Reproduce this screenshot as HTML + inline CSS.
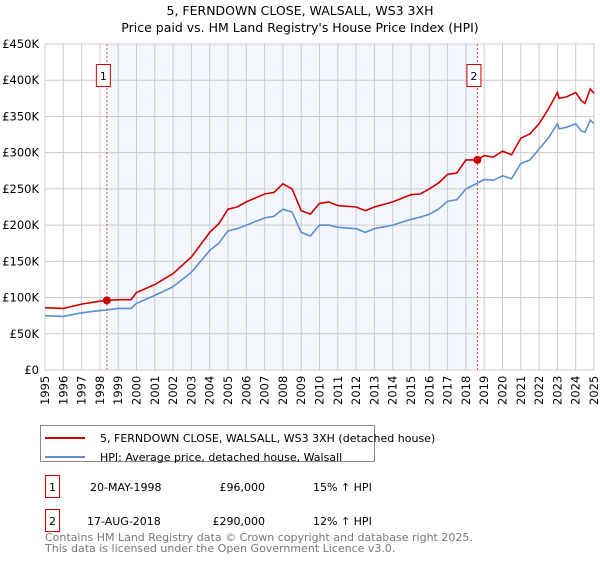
<!DOCTYPE html>
<html><head><meta charset="utf-8"><style>
body{margin:0;background:#fff;font-family:"Liberation Sans","DejaVu Sans",sans-serif;}
svg text{font-family:"DejaVu Sans","Liberation Sans",sans-serif;}
</style></head><body>
<svg id="c" width="600" height="560" xmlns="http://www.w3.org/2000/svg">
<text x="300" y="15" text-anchor="middle" font-size="12.5">5, FERNDOWN CLOSE, WALSALL, WS3 3XH</text>
<text x="300" y="32" text-anchor="middle" font-size="12.5">Price paid vs. HM Land Registry's House Price Index (HPI)</text>
<g id="grid"></g><g id="series"></g><g id="axes"></g>
<rect x="40.5" y="425.5" width="334" height="36" fill="#fff" stroke="#888"/>
<line x1="45" y1="438" x2="85" y2="438" stroke="#cc0000" stroke-width="2"/>
<text x="100" y="442" font-size="11">5, FERNDOWN CLOSE, WALSALL, WS3 3XH (detached house)</text>
<line x1="45" y1="457" x2="85" y2="457" stroke="#5b8fd0" stroke-width="2"/>
<text x="100" y="461" font-size="11">HPI: Average price, detached house, Walsall</text>
<g>
<rect x="45.5" y="475.5" width="14" height="22" fill="#fff" stroke="#cc0000"/>
<text x="52.5" y="491" text-anchor="middle" font-size="11">1</text>
<text x="90" y="491" font-size="11">20-MAY-1998</text>
<text x="265" y="491" text-anchor="end" font-size="11">£96,000</text>
<text x="313" y="491" font-size="11">15% ↑ HPI</text></g>
<g>
<rect x="45.5" y="509.5" width="14" height="22" fill="#fff" stroke="#cc0000"/>
<text x="52.5" y="525" text-anchor="middle" font-size="11">2</text>
<text x="87" y="525" font-size="11">17-AUG-2018</text>
<text x="265" y="525" text-anchor="end" font-size="11">£290,000</text>
<text x="313" y="525" font-size="11">12% ↑ HPI</text></g>
<text x="45" y="541" font-size="11" fill="#777">Contains HM Land Registry data © Crown copyright and database right 2025.</text>
<text x="45" y="552" font-size="11" fill="#777">This data is licensed under the Open Government Licence v3.0.</text>
</svg>
<script>
const years=[1995,1996,1997,1998,1998.38,1999,1999.7,2000,2001,2002,2003,2004,2004.5,2005,2005.5,2006,2007,2007.5,2008,2008.5,2009,2009.5,2010,2010.5,2011,2012,2012.5,2013,2014,2015,2015.5,2016,2016.5,2017,2017.5,2018,2018.63,2019,2019.5,2020,2020.5,2021,2021.5,2022,2022.5,2023,2023.1,2023.5,2024,2024.3,2024.5,2024.8,2025];
const hpi=[75,74,79,82,83,85,85,92,103,115,135,165,175,192,195,200,210,212,222,218,190,185,200,200,197,195,190,195,200,208,211,215,222,233,235,250,258,263,262,268,264,285,290,305,320,340,333,335,340,330,328,345,340];
const prop=[86,85,91,95,96,97,97,107,118,133,156,190,202,222,225,232,243,245,257,250,220,215,230,232,227,225,220,225,232,242,243,250,258,270,272,290,290,296,294,302,297,320,326,340,360,383,375,377,383,372,368,388,382];
const yTicks=[0,50,100,150,200,250,300,350,400,450];
const yTickLabels=["£0","£50K","£100K","£150K","£200K","£250K","£300K","£350K","£400K","£450K"];
const sales=[{n:"1",year:1998.38,value:96},{n:"2",year:2018.63,value:290}];
const X0=45,X1=594,Y0=370,Y1=44;
const xs=y=>X0+(y-1995)/(2025-1995)*(X1-X0);
const ys=v=>Y0-v/450*(Y0-Y1);
const NS="http://www.w3.org/2000/svg";
function mk(tag,attrs,parent){const e=document.createElementNS(NS,tag);for(const k in attrs)e.setAttribute(k,attrs[k]);parent.appendChild(e);return e;}
const grid=document.getElementById('grid'),ser=document.getElementById('series'),ax=document.getElementById('axes');
const shade=mk('rect',{x:xs(sales[0].year),y:Y1,width:xs(sales[1].year)-xs(sales[0].year),height:Y0-Y1,fill:'#f3f6fd'},grid);


for(let yr=1995;yr<=2025;yr++){const l=mk('line',{x1:xs(yr),x2:xs(yr),y1:Y1,y2:Y0,stroke:'#ccc'},grid);


const t=mk('text',{transform:`translate(${xs(yr)+4},${Y0+35}) rotate(-90)`,'font-size':'11.5'},ax);t.textContent=yr;

}
yTicks.forEach((v,i)=>{const l=mk('line',{x1:X0,x2:X1,y1:ys(v),y2:ys(v),stroke:'#ccc'},grid);


const t=mk('text',{x:X0-6,y:ys(v)+4,'text-anchor':'end','font-size':'11.5'},ax);t.textContent=yTickLabels[i];

});
mk('rect',{x:X0,y:Y1,width:X1-X0,height:Y0-Y1,fill:'none',stroke:'#ccc'},grid);
function path(arr){return arr.map((v,i)=>(i?'L':'M')+xs(years[i]).toFixed(1)+','+ys(v).toFixed(1)).join('');}
const ph=mk('path',{d:path(hpi),fill:'none',stroke:'#5b8fd0','stroke-width':1.6},ser);


const pp=mk('path',{d:path(prop),fill:'none',stroke:'#cc0000','stroke-width':1.6},ser);


sales.forEach(s=>{const x=xs(s.year);
const l=mk('line',{x1:x,x2:x,y1:Y1,y2:Y0,stroke:'#e05050','stroke-dasharray':'2,2'},ser);


const c=mk('circle',{cx:x,cy:ys(s.value),r:4,fill:'#cc0000'},ser);


const b=mk('rect',{x:x-10.5,y:64.5,width:14,height:22,fill:'#fff',stroke:'#cc0000'},ser);


const t=mk('text',{x:x-3.5,y:80,'text-anchor':'middle','font-size':'11'},ser);t.textContent=s.n;

});
</script>
</body></html>
